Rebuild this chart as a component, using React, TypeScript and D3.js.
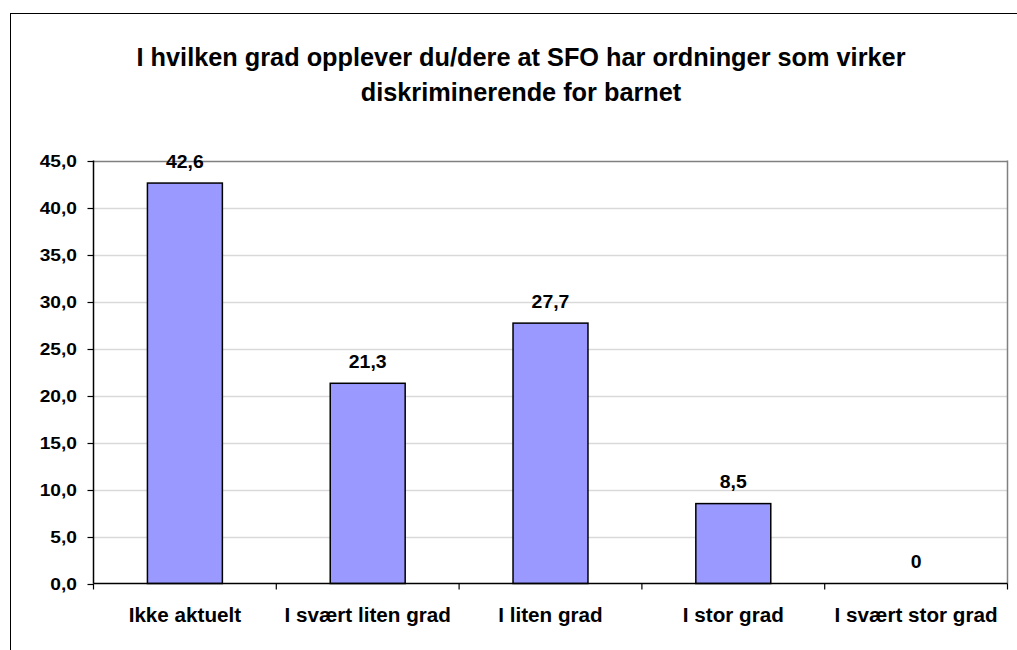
import React from "react";
import * as d3 from "d3";

const categories = ["Ikke aktuelt", "I svært liten grad", "I liten grad", "I stor grad", "I svært stor grad"];
const values = [42.6, 21.3, 27.7, 8.5, 0];
const valueLabels = ["42,6", "21,3", "27,7", "8,5", "0"];
const yTicks = [0, 5, 10, 15, 20, 25, 30, 35, 40, 45];
const titleLines = ["I hvilken grad opplever du/dere at SFO har ordninger som virker", "diskriminerende for barnet"];

const W = 1017, H = 650;
const plot = { left: 93.5, right: 1007.5, top: 160.5, bottom: 583.5 };
const FONT = "'Liberation Sans', Arial, sans-serif";

export default function App() {
  const x = d3.scaleBand<string>().domain(categories).range([plot.left, plot.right]).paddingInner(0.59).paddingOuter(0.295);
  const xStep = d3.scaleBand<string>().domain(categories).range([plot.left, plot.right]).padding(0);
  const y = d3.scaleLinear().domain([0, 45]).range([plot.bottom, plot.top]);
  const fmt = (v: number) => v.toFixed(1).replace(".", ",");

  const stretched = (txt: string, tx: number, ty: number, size: number, sx: number, anchor: string, key?: any) => (
    <text key={key} transform={`translate(${tx},${ty}) scale(${sx},1)`} textAnchor={anchor} fontFamily={FONT} fontWeight="bold" fontSize={size} fill="#000">{txt}</text>
  );

  return (
    <svg width={W} height={H} style={{ position: "absolute", left: 0, top: 0, background: "#fff" }}>
      <rect x={10.5} y={13.5} width={W + 10} height={H + 10} fill="#fff" stroke="#000" strokeWidth={1} />
      {titleLines.map((t, i) => stretched(t, 521, 66 + i * 35, 25.3, 1.0, "middle", "t" + i))}
      {/* gridlines */}
      {yTicks.filter(t => t > 0).map(t => (
        <line key={"g" + t} x1={plot.left} x2={plot.right} y1={Math.round(y(t)) + 0.5} y2={Math.round(y(t)) + 0.5} stroke={t === 45 ? "#808080" : "#d9d9d9"} strokeWidth={1.5} />
      ))}
      <line x1={plot.right} x2={plot.right} y1={plot.top} y2={plot.bottom} stroke="#808080" strokeWidth={1.5} />
      {/* bars */}
      {categories.map((c, i) => values[i] > 0 ? (
        <rect key={"b" + c} x={x(c)} y={y(values[i])} width={x.bandwidth()} height={y(0) - y(values[i])} fill="#9999ff" stroke="#000" strokeWidth={1.5} />
      ) : null)}
      {/* axes */}
      <line x1={plot.left} x2={plot.left} y1={plot.top} y2={plot.bottom} stroke="#000" strokeWidth={1.5} />
      <line x1={plot.left} x2={plot.right} y1={plot.bottom} y2={plot.bottom} stroke="#000" strokeWidth={1.5} />
      {yTicks.map(t => (
        <g key={"yt" + t}>
          <line x1={plot.left - 6} x2={plot.left} y1={Math.round(y(t)) + 0.5} y2={Math.round(y(t)) + 0.5} stroke="#000" strokeWidth={1.2} />
          {stretched(fmt(t), 77, y(t) + 6.5, 17, 1.13, "end")}
        </g>
      ))}
      {categories.map((c, i) => (
        <line key={"xt" + i} x1={xStep(c)!} x2={xStep(c)!} y1={plot.bottom} y2={plot.bottom + 6} stroke="#000" strokeWidth={1.2} />
      ))}
      <line x1={plot.right} x2={plot.right} y1={plot.bottom} y2={plot.bottom + 6} stroke="#000" strokeWidth={1.2} />
      {categories.map((c, i) => stretched(c, x(c)! + x.bandwidth() / 2, 621.5, 19.5, 1.06, "middle", "c" + i))}
      {categories.map((c, i) => stretched(valueLabels[i], x(c)! + x.bandwidth() / 2, y(values[i]) - 15.5, 18, 1.08, "middle", "v" + i))}
    </svg>
  );
}
